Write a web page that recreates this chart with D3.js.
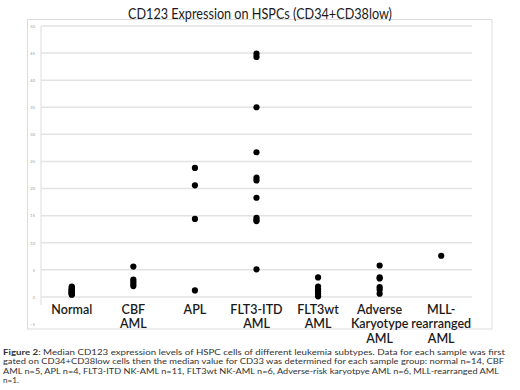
<!DOCTYPE html>
<html><head><meta charset="utf-8">
<script src="https://cdn.jsdelivr.net/npm/d3@7"></script>
<style>body{margin:0;background:#fff;} svg{display:block;}</style>
</head><body>
<svg id="c" width="520" height="390"></svg>
<script>
const categories = [
  ["Normal"],
  ["CBF","AML"],
  ["APL"],
  ["FLT3-ITD","AML"],
  ["FLT3wt","AML"],
  ["Adverse","Karyotype","AML"],
  ["MLL-","rearranged","AML"]
];
const categoryKeys = ["Normal","CBF AML","APL","FLT3-ITD AML","FLT3wt AML","Adverse Karyotype AML","MLL-rearranged AML"];
const normalVals = [1.9,1.7,1.5,1.4,1.3,1.2,1.1,1.0,0.9,0.8,0.7,0.6,0.5,0.4];
const cbfVals = [5.6,3.2,2.8,2.4,2.0];
const aplVals = [23.8,20.6,14.4,1.2];
const flt3itdVals = [44.9,44.3,35.0,26.7,22.0,21.5,18.3,14.6,14.2,14.0,5.1];
const flt3wtVals = [3.6,1.9,1.4,1.0,0.6,0.1];
const adverseVals = [5.8,3.6,3.4,1.8,1.3,0.6];
const mllVals = [7.6];
const seriesValues = [normalVals,cbfVals,aplVals,flt3itdVals,flt3wtVals,adverseVals,mllVals];
const yTicks = [-5,0,5,10,15,20,25,30,35,40,45,50];
const gridTicks = [0,5,10,15,20,25,30,35,40,45,50];
const title = "CD123 Expression on HSPCs (CD34+CD38low)";
const captionLines = [
  ["Figure 2", ": Median CD123 expression levels of HSPC cells of different leukemia subtypes. Data for each sample was first"],
  ["", "gated on CD34+CD38low cells then the median value for CD33 was determined for each sample group: normal n=14, CBF"],
  ["", "AML n=5, APL n=4, FLT3-ITD NK-AML n=11, FLT3wt NK-AML n=6, Adverse-risk karyotpye AML n=6, MLL-rearranged AML"],
  ["", "n=1."]
];
const captionWidths = [502, 501, 496, null];

const svg = d3.select("#c");
const font = "Lato, 'Liberation Sans', sans-serif";

// chart border
svg.append("rect").attr("x",27.5).attr("y",19.5).attr("width",464.5).attr("height",309.5)
  .attr("fill","none").attr("stroke","#dcdcdc").attr("stroke-width",1);

const x = d3.scaleBand().domain(categoryKeys).range([41,472]);
const y = d3.scaleLinear().domain([-5,50]).range([324,26]);

// gridlines
svg.append("g").selectAll("line").data(gridTicks).join("line")
  .attr("x1",41).attr("x2",472).attr("y1",d=>y(d)).attr("y2",d=>y(d))
  .attr("stroke","#e3e3e3").attr("stroke-width",1.5);

// y axis line
svg.append("line").attr("x1",41).attr("x2",41).attr("y1",y(50)).attr("y2",y(-1.5))
  .attr("stroke","#e3e3e3").attr("stroke-width",1.2);

// y tick labels
const yAxis = d3.axisLeft(y).tickValues(yTicks).tickSize(0).tickPadding(6);
const ga = svg.append("g").attr("transform","translate(41,0)").call(yAxis);
ga.select(".domain").remove();
ga.selectAll("text").attr("font-size",4).attr("fill","#999").attr("font-family",font);

// title
svg.append("text").attr("x",260).attr("y",19).attr("text-anchor","middle")
  .attr("font-family",font).attr("font-size",14.5).attr("fill","#1a1a1a")
  .attr("textLength",264).attr("lengthAdjust","spacingAndGlyphs").text(title);

// dots
categoryKeys.forEach((k,i)=>{
  svg.append("g").selectAll("circle").data(seriesValues[i]).join("circle")
    .attr("cx",x(k)+x.bandwidth()/2).attr("cy",d=>y(d)).attr("r",3.1).attr("fill","#000");
});

// category labels
categoryKeys.forEach((k,i)=>{
  const t = svg.append("text").attr("text-anchor","middle")
    .attr("font-family",font).attr("font-size",12.5).attr("font-weight",600).attr("fill","#1a1a1a");
  categories[i].forEach((line,j)=>{
    t.append("tspan").attr("x",x(k)+x.bandwidth()/2).attr("y",313.5+j*14.5).text(line);
  });
});

// caption
captionLines.forEach((ln,i)=>{
  const t = svg.append("text").attr("x",3).attr("y",355+i*9.4)
    .attr("font-family",font).attr("font-size",8.2).attr("fill","#333");
  if (captionWidths[i]) t.attr("textLength",captionWidths[i]).attr("lengthAdjust","spacingAndGlyphs");
  if (ln[0]) t.append("tspan").attr("font-weight","bold").text(ln[0]);
  t.append("tspan").text(ln[1]);
});
</script>
</body></html>
